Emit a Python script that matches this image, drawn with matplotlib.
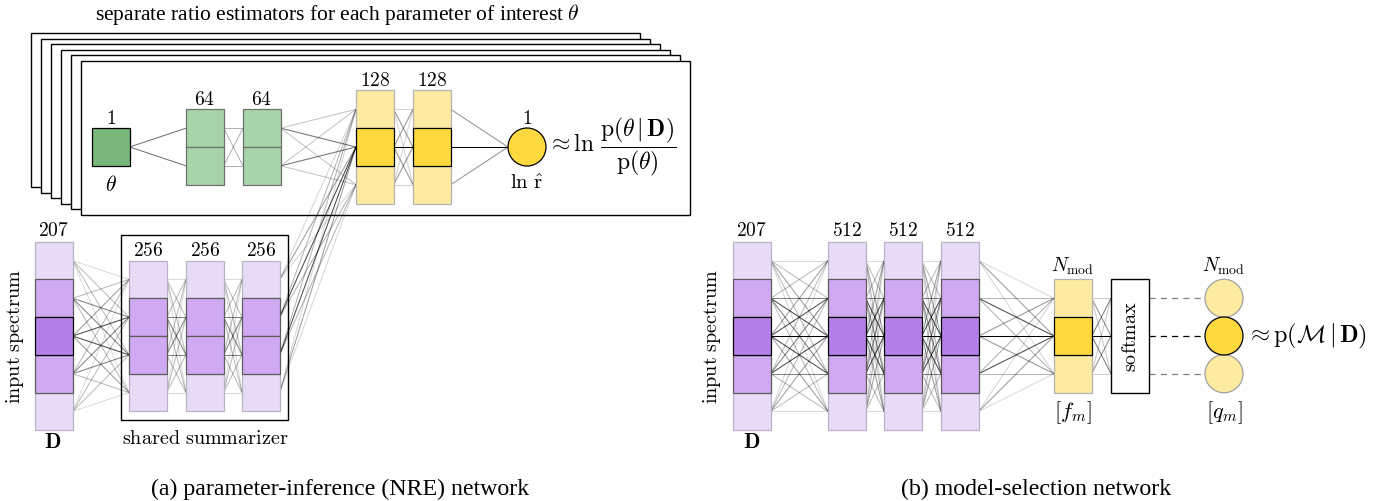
import matplotlib
matplotlib.use("Agg")
import matplotlib.pyplot as plt
from matplotlib.patches import Rectangle, Circle

plt.rcParams['mathtext.fontset'] = 'cm'

# layer sizes written above each column
head_sizes = ["1", "64", "64", "128", "128", "1"]
summ_sizes = ["207", "256", "256", "256"]
sel_sizes = ["207", "512", "512", "512", r"N_{\mathrm{mod}}"]

# cell tones of each drawn column (light / medium / dark)
theta_cells = ["gd"]
head64_cells = ["gl", "gl"]
head128_cells = ["yl", "yd", "yl"]
spec_cells = ["pl", "pm", "pd", "pm", "pl"]
summ_cells = ["pl", "pm", "pm", "pl"]
sel_cells = ["pl", "pm", "pd", "pm", "pl"]
out_cells = ["yl", "yd", "yl"]
softmax_weights = [0.5, 1.0, 0.5]
n_stack = 5

# fill, edge colour, line weight
TONES = {
    "pl": ("#e8dbf8", "#b9b2c2", 0.38),
    "pm": ("#d0a9f3", "#5c5c5c", 0.7),
    "pd": ("#b57fea", "#000000", 1.0),
    "yl": ("#feeba2", "#b3b3b3", 0.42),
    "yd": ("#fdd93f", "#000000", 1.0),
    "gl": ("#a7d4a9", "#707070", 0.55),
    "gd": ("#79b77a", "#000000", 1.0),
}

C = 37.7  # cell size in px
LAB = 14


def column(ax, x, yc, tones, label=None, ly=None):
    n = len(tones)
    top = yc - n * C / 2
    anchors = []
    order = sorted(range(n), key=lambda i: TONES[tones[i]][2])
    for i in order:
        fc, ec, w = TONES[tones[i]]
        ax.add_patch(Rectangle((x, top + i * C), C, C, facecolor=fc,
                               edgecolor=ec, lw=0.9, zorder=3 + w))
    for i in range(n):
        anchors.append((top + (i + 0.5) * C, TONES[tones[i]][2]))
    if label is not None:
        ax.text(x + C / 2, ly, "$" + label + "$", ha="center", va="center",
                fontsize=LAB)
    return {"l": x, "r": x + C, "a": anchors}


def connect(ax, a, b, lw=0.75):
    for ya, wa in a["a"]:
        for yb, wb in b["a"]:
            ax.plot([a["r"], b["l"]], [ya, yb], color="black",
                    alpha=min(1.0, wa * wb), lw=lw, zorder=2,
                    solid_capstyle="butt")


fig = plt.figure(figsize=(13.8, 5.01), dpi=100)
ax = fig.add_axes([0, 0, 1, 1])
ax.set_xlim(0, 1380)
ax.set_ylim(501, 0)
ax.axis("off")

# ---- (a) stacked ratio estimators ----
bx, by, bw, bh = 81, 61, 609, 154
for k in range(n_stack, 0, -1):
    ax.add_patch(Rectangle((bx - 10 * k, by - 5.6 * k), bw, bh, facecolor="white",
                           edgecolor="black", lw=1.0, zorder=0.5))
ax.add_patch(Rectangle((bx, by), bw, bh, facecolor="white", edgecolor="black",
                       lw=1.0, zorder=0.6))
ax.text(337, 14, "separate ratio estimators for each parameter of interest $\\theta$",
        ha="center", va="center", fontsize=15.5, family="Liberation Serif")

yt = 147
th = column(ax, 92, yt, theta_cells, head_sizes[0], 118)
ax.text(111, 185, r"$\theta$", ha="center", va="center", fontsize=LAB + 1.5)
g1 = column(ax, 186, yt, head64_cells, head_sizes[1], 99)
g2 = column(ax, 243, yt, head64_cells, head_sizes[2], 99)
y1 = column(ax, 356, yt, head128_cells, head_sizes[3], 80)
y2 = column(ax, 413, yt, head128_cells, head_sizes[4], 80)
ox, r = 527, 19
ax.add_patch(Circle((ox, yt), r, facecolor=TONES["yd"][0], edgecolor="black",
                    lw=0.9, zorder=4))
ax.text(ox, 118, "$" + head_sizes[5] + "$", ha="center", va="center", fontsize=LAB)
ax.text(ox, 183, r"$\ln\,\hat{\mathrm{r}}$", ha="center", va="center",
        fontsize=LAB + 1)
ax.text(547, yt, r"$\approx \ln\,\dfrac{\mathrm{p}(\theta\,|\,\mathbf{D})}{\mathrm{p}(\theta)}$",
        ha="left", va="center", fontsize=17)
out = {"l": ox - r, "r": ox + r, "a": [(yt, 1.0)]}

connect(ax, th, g1)
connect(ax, g1, g2)
connect(ax, g2, y1)
connect(ax, y1, y2)
connect(ax, y2, out)

# shared summarizer
yb = 336
sp = column(ax, 35, yb, spec_cells, summ_sizes[0], 230)
ax.text(53, 442, r"$\mathbf{D}$", ha="center", va="center", fontsize=LAB + 1.5)
ax.text(15, yb, r"$\mathrm{input\ spectrum}$", ha="center", va="center",
        rotation=90, fontsize=LAB + 0.5)
s1 = column(ax, 129, yb, summ_cells, summ_sizes[1], 250)
s2 = column(ax, 186, yb, summ_cells, summ_sizes[2], 250)
s3 = column(ax, 242, yb, summ_cells, summ_sizes[3], 250)
ax.add_patch(Rectangle((121, 235), 167, 185, facecolor="none", edgecolor="black",
                       lw=1.0, zorder=1))
ax.text(205, 438, r"$\mathrm{shared\ summarizer}$", ha="center", va="center",
        fontsize=LAB + 0.5)
connect(ax, sp, s1)
connect(ax, s1, s2)
connect(ax, s2, s3)
connect(ax, s3, y1)

# ---- (b) model-selection network ----
mp = column(ax, 733, yb, spec_cells, sel_sizes[0], 230)
ax.text(752, 442, r"$\mathbf{D}$", ha="center", va="center", fontsize=LAB + 1.5)
ax.text(712, yb, r"$\mathrm{input\ spectrum}$", ha="center", va="center",
        rotation=90, fontsize=LAB + 0.5)
m1 = column(ax, 828, yb, sel_cells, sel_sizes[1], 230)
m2 = column(ax, 884, yb, sel_cells, sel_sizes[2], 230)
m3 = column(ax, 941, yb, sel_cells, sel_sizes[3], 230)
fm = column(ax, 1054, yb, out_cells, sel_sizes[4], 266)
ax.text(1073, 413, r"$[f_m]$", ha="center", va="center", fontsize=LAB + 2)
connect(ax, mp, m1)
connect(ax, m1, m2)
connect(ax, m2, m3)
connect(ax, m3, fm)

# softmax block and class outputs
n_out = len(out_cells)
sm_top = yb - n_out * C / 2
ax.add_patch(Rectangle((1111, sm_top), C, n_out * C, facecolor="white",
                       edgecolor="black", lw=1.0, zorder=3))
ax.text(1130, yb, r"$\mathrm{softmax}$", ha="center", va="center",
        rotation=90, fontsize=LAB + 0.5)
sm = {"l": 1111, "r": 1111 + C,
      "a": [(sm_top + (i + 0.5) * C, w) for i, w in enumerate(softmax_weights)]}
connect(ax, fm, sm)
cx = 1224
for i, t in enumerate(out_cells):
    fc, ec, w = TONES[t]
    cy = sm_top + (i + 0.5) * C
    ax.plot([sm["r"], cx - r], [cy, cy], color="black", alpha=w if w == 1 else 0.5,
            lw=0.9, ls=(0, (5, 4)), zorder=2)
    ax.add_patch(Circle((cx, cy), r, facecolor=fc,
                        edgecolor="black" if w == 1 else "#a0a0a0",
                        lw=0.9, zorder=3 + w))
ax.text(cx, 266, "$" + sel_sizes[4] + "$", ha="center", va="center", fontsize=LAB)
ax.text(cx, 413, r"$[q_m]$", ha="center", va="center", fontsize=LAB + 2)
ax.text(1246, yb, r"$\approx \mathrm{p}(\mathcal{M}\,|\,\mathbf{D})$",
        ha="left", va="center", fontsize=17.5)

# sub-captions
ax.text(340, 489, "(a) parameter-inference (NRE) network", ha="center",
        va="center", fontsize=17.2, family="Liberation Serif")
ax.text(1036, 489, "(b) model-selection network", ha="center",
        va="center", fontsize=17.2, family="Liberation Serif")

fig.savefig("out.png", dpi=100)
